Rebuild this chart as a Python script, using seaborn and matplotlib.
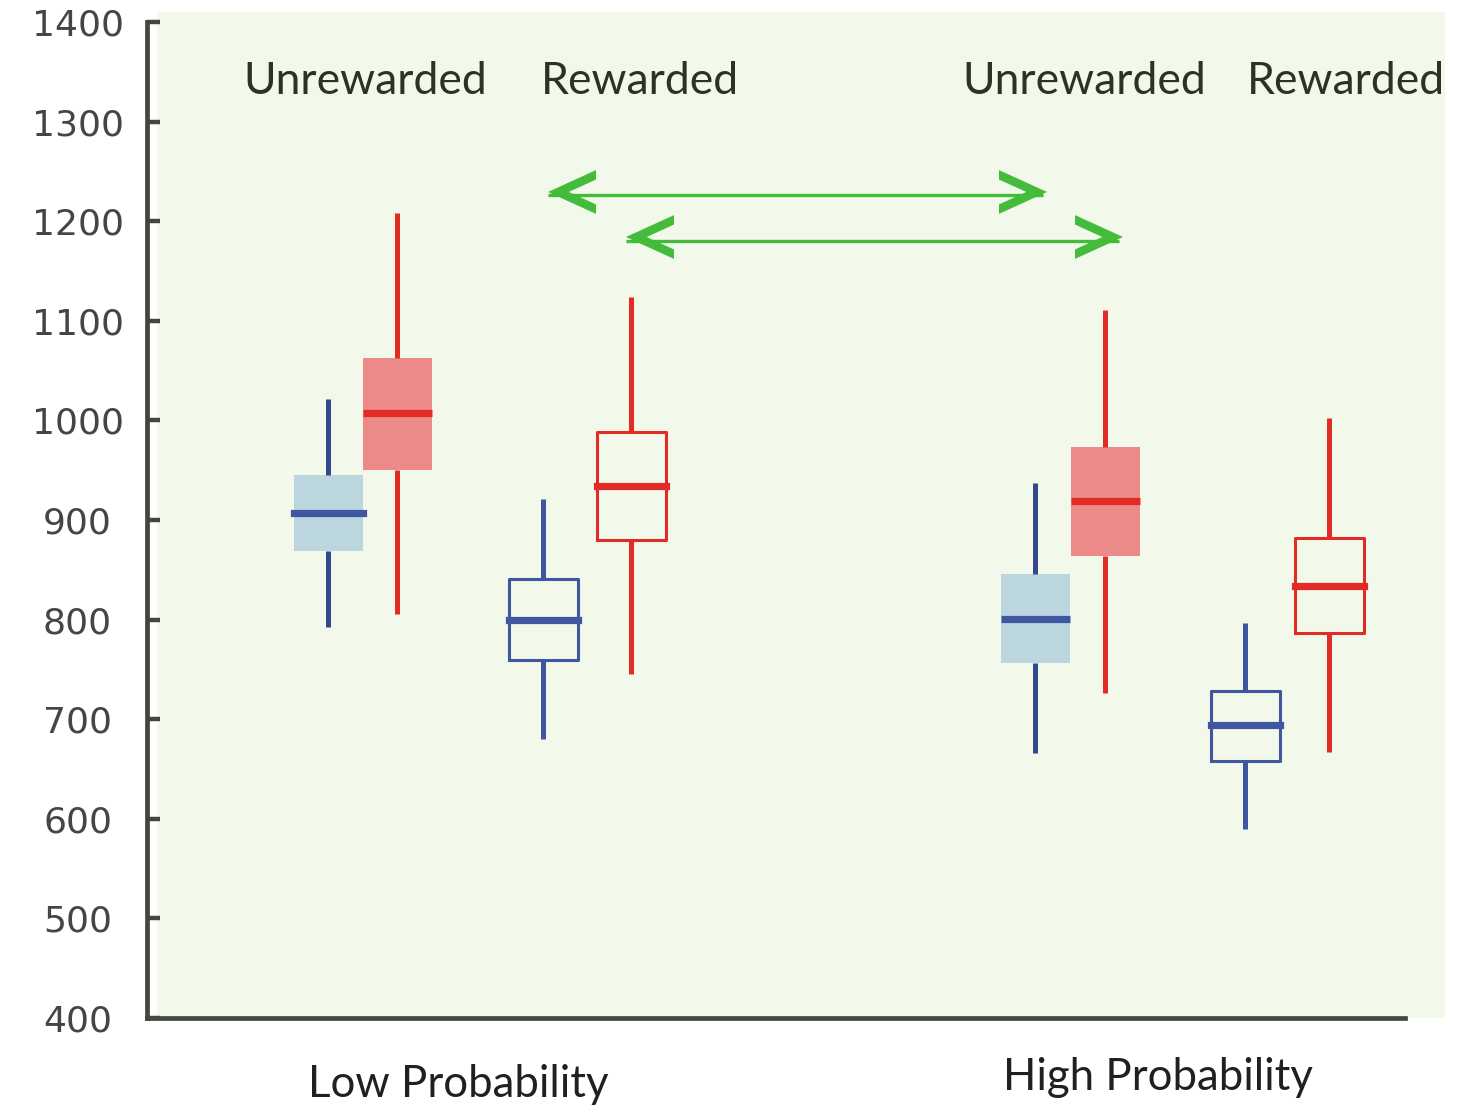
import numpy as np
import pandas as pd
import matplotlib
matplotlib.use("Agg")
import matplotlib.pyplot as plt
import seaborn as sns
from matplotlib.patches import Rectangle, Polygon

# ---------------- data ----------------
probability = ["Low Probability", "High Probability"]
reward = ["Unrewarded", "Rewarded", "Unrewarded", "Rewarded"]
yticks = [400, 500, 600, 700, 800, 900, 1000, 1100, 1200, 1300, 1400]

# box statistics: [whisker low, Q1, median, Q3, whisker high]
low_unrewarded_blue = [793, 869, 907, 945, 1021]
low_unrewarded_red = [806, 950, 1007, 1063, 1208]
low_rewarded_blue = [680, 759, 800, 841, 921]
low_rewarded_red = [745, 880, 934, 988, 1124]
high_unrewarded_blue = [666, 756, 801, 846, 937]
high_unrewarded_red = [726, 864, 919, 973, 1111]
high_rewarded_blue = [590, 658, 694, 728, 797]
high_rewarded_red = [667, 787, 834, 882, 1002]

# ---------------- layout / style ----------------
W, H = 1457, 1106
box_x = [328, 397, 543, 631, 1035, 1105, 1245, 1329]
box_w = 69
bg = "#f2f9ea"
blue_face, blue_line, blue_whisk = "#bcd6df", "#3f56a0", "#34498c"
red_face, red_line = "#ec8989", "#e22b24"
green = "#45bb3c"

boxes = [
    (low_unrewarded_blue, "blue", True, "projecting"),
    (low_unrewarded_red, "red", True, "butt"),
    (low_rewarded_blue, "blue", False, "projecting"),
    (low_rewarded_red, "red", False, "projecting"),
    (high_unrewarded_blue, "blue", True, "butt"),
    (high_unrewarded_red, "red", True, "butt"),
    (high_rewarded_blue, "blue", False, "projecting"),
    (high_rewarded_red, "red", False, "projecting"),
]

fig = plt.figure(figsize=(W / 100, H / 100), dpi=100)
ax = fig.add_axes([147 / W, 88 / H, (1445 - 147) / W, 1006 / H])
ax.set_facecolor("white")
ax.add_patch(Rectangle((157, 400), 1445 - 157, 1010, facecolor=bg,
                       edgecolor="none", zorder=0))

for (vals, col, filled, cap), xp in zip(boxes, box_x):
    df = pd.DataFrame({"x": [xp] * len(vals), "y": vals})
    if col == "blue":
        face, line = blue_face, blue_line
        wcol = blue_whisk if filled else blue_line
    else:
        face, line = red_face, red_line
        wcol = red_line
    if filled:
        bprops = dict(facecolor=face, edgecolor=face, linewidth=0)
    else:
        bprops = dict(color=line, linewidth=2.2)
    sns.boxplot(data=df, x="x", y="y", native_scale=True, orient="x",
                width=box_w, whis=(0, 100), fill=filled,
                color=face if filled else line,
                showcaps=False, showfliers=False,
                boxprops=bprops,
                whiskerprops=dict(color=wcol, linewidth=3.6),
                medianprops=dict(color=line, linewidth=5.2, solid_capstyle=cap),
                ax=ax)

# arrows (annotation)
arrows = [(548, 1047, 1229.3, 1226.3), (626, 1123, 1184.1, 1179.6)]
L, Hh, tv = 48, 22, 9.5
d = L * tv / Hh


def chevron(tip, cy, direction):
    s = -direction
    pts = [(tip, cy), (tip + s * L, cy + Hh), (tip + s * L, cy + Hh - tv),
           (tip + s * d, cy), (tip + s * L, cy - Hh + tv), (tip + s * L, cy - Hh)]
    return Polygon(pts, closed=True, facecolor=green, edgecolor="none", zorder=4)


for lx, rx, cy, ly in arrows:
    ax.plot([lx, rx - 4], [ly, ly], color=green, lw=2.4, solid_capstyle="butt", zorder=3)
    ax.add_patch(chevron(lx, cy, -1))
    ax.add_patch(chevron(rx, cy, 1))

# header labels
hdr_x = [365, 640, 1084, 1346]
for t, xx in zip(reward, hdr_x):
    ax.text(xx, 1327.7, t, ha="center", va="baseline", fontsize=32,
            family=["Lato", "DejaVu Sans"], color="#2b3322", zorder=5)

# group labels
for t, xx, yy in zip(probability, [458.5, 1158], [320.7, 327.7]):
    ax.text(xx, yy, t, ha="center", va="baseline", fontsize=31.5,
            family=["Lato", "DejaVu Sans"], color="#231f20", clip_on=False)

ax.set_xlim(147, 1445)
ax.set_ylim(400, 1410)
ax.set_xticks([])
ax.set_xlabel("")
ax.set_ylabel("")
ax.set_yticks(yticks)
ax.set_yticklabels([str(v) for v in yticks])
ax.tick_params(axis="y", direction="in", length=9.5, width=3.2, pad=50,
               labelsize=26, labelcolor="#454545", color="#474343")
for lbl in ax.get_yticklabels():
    lbl.set_ha("center")
    lbl.set_family(["DejaVu Sans"])

for s in ["top", "right"]:
    ax.spines[s].set_visible(False)
ax.spines["left"].set_bounds(400, 1400)
ax.spines["left"].set_linewidth(3.4)
ax.spines["left"].set_color("#474343")
ax.spines["bottom"].set_bounds(147, 1405)
ax.spines["bottom"].set_linewidth(3.4)
ax.spines["bottom"].set_color("#45483f")
ax.spines["left"].set_zorder(6)
ax.spines["bottom"].set_zorder(6)

fig.savefig("out.png", dpi=100)
